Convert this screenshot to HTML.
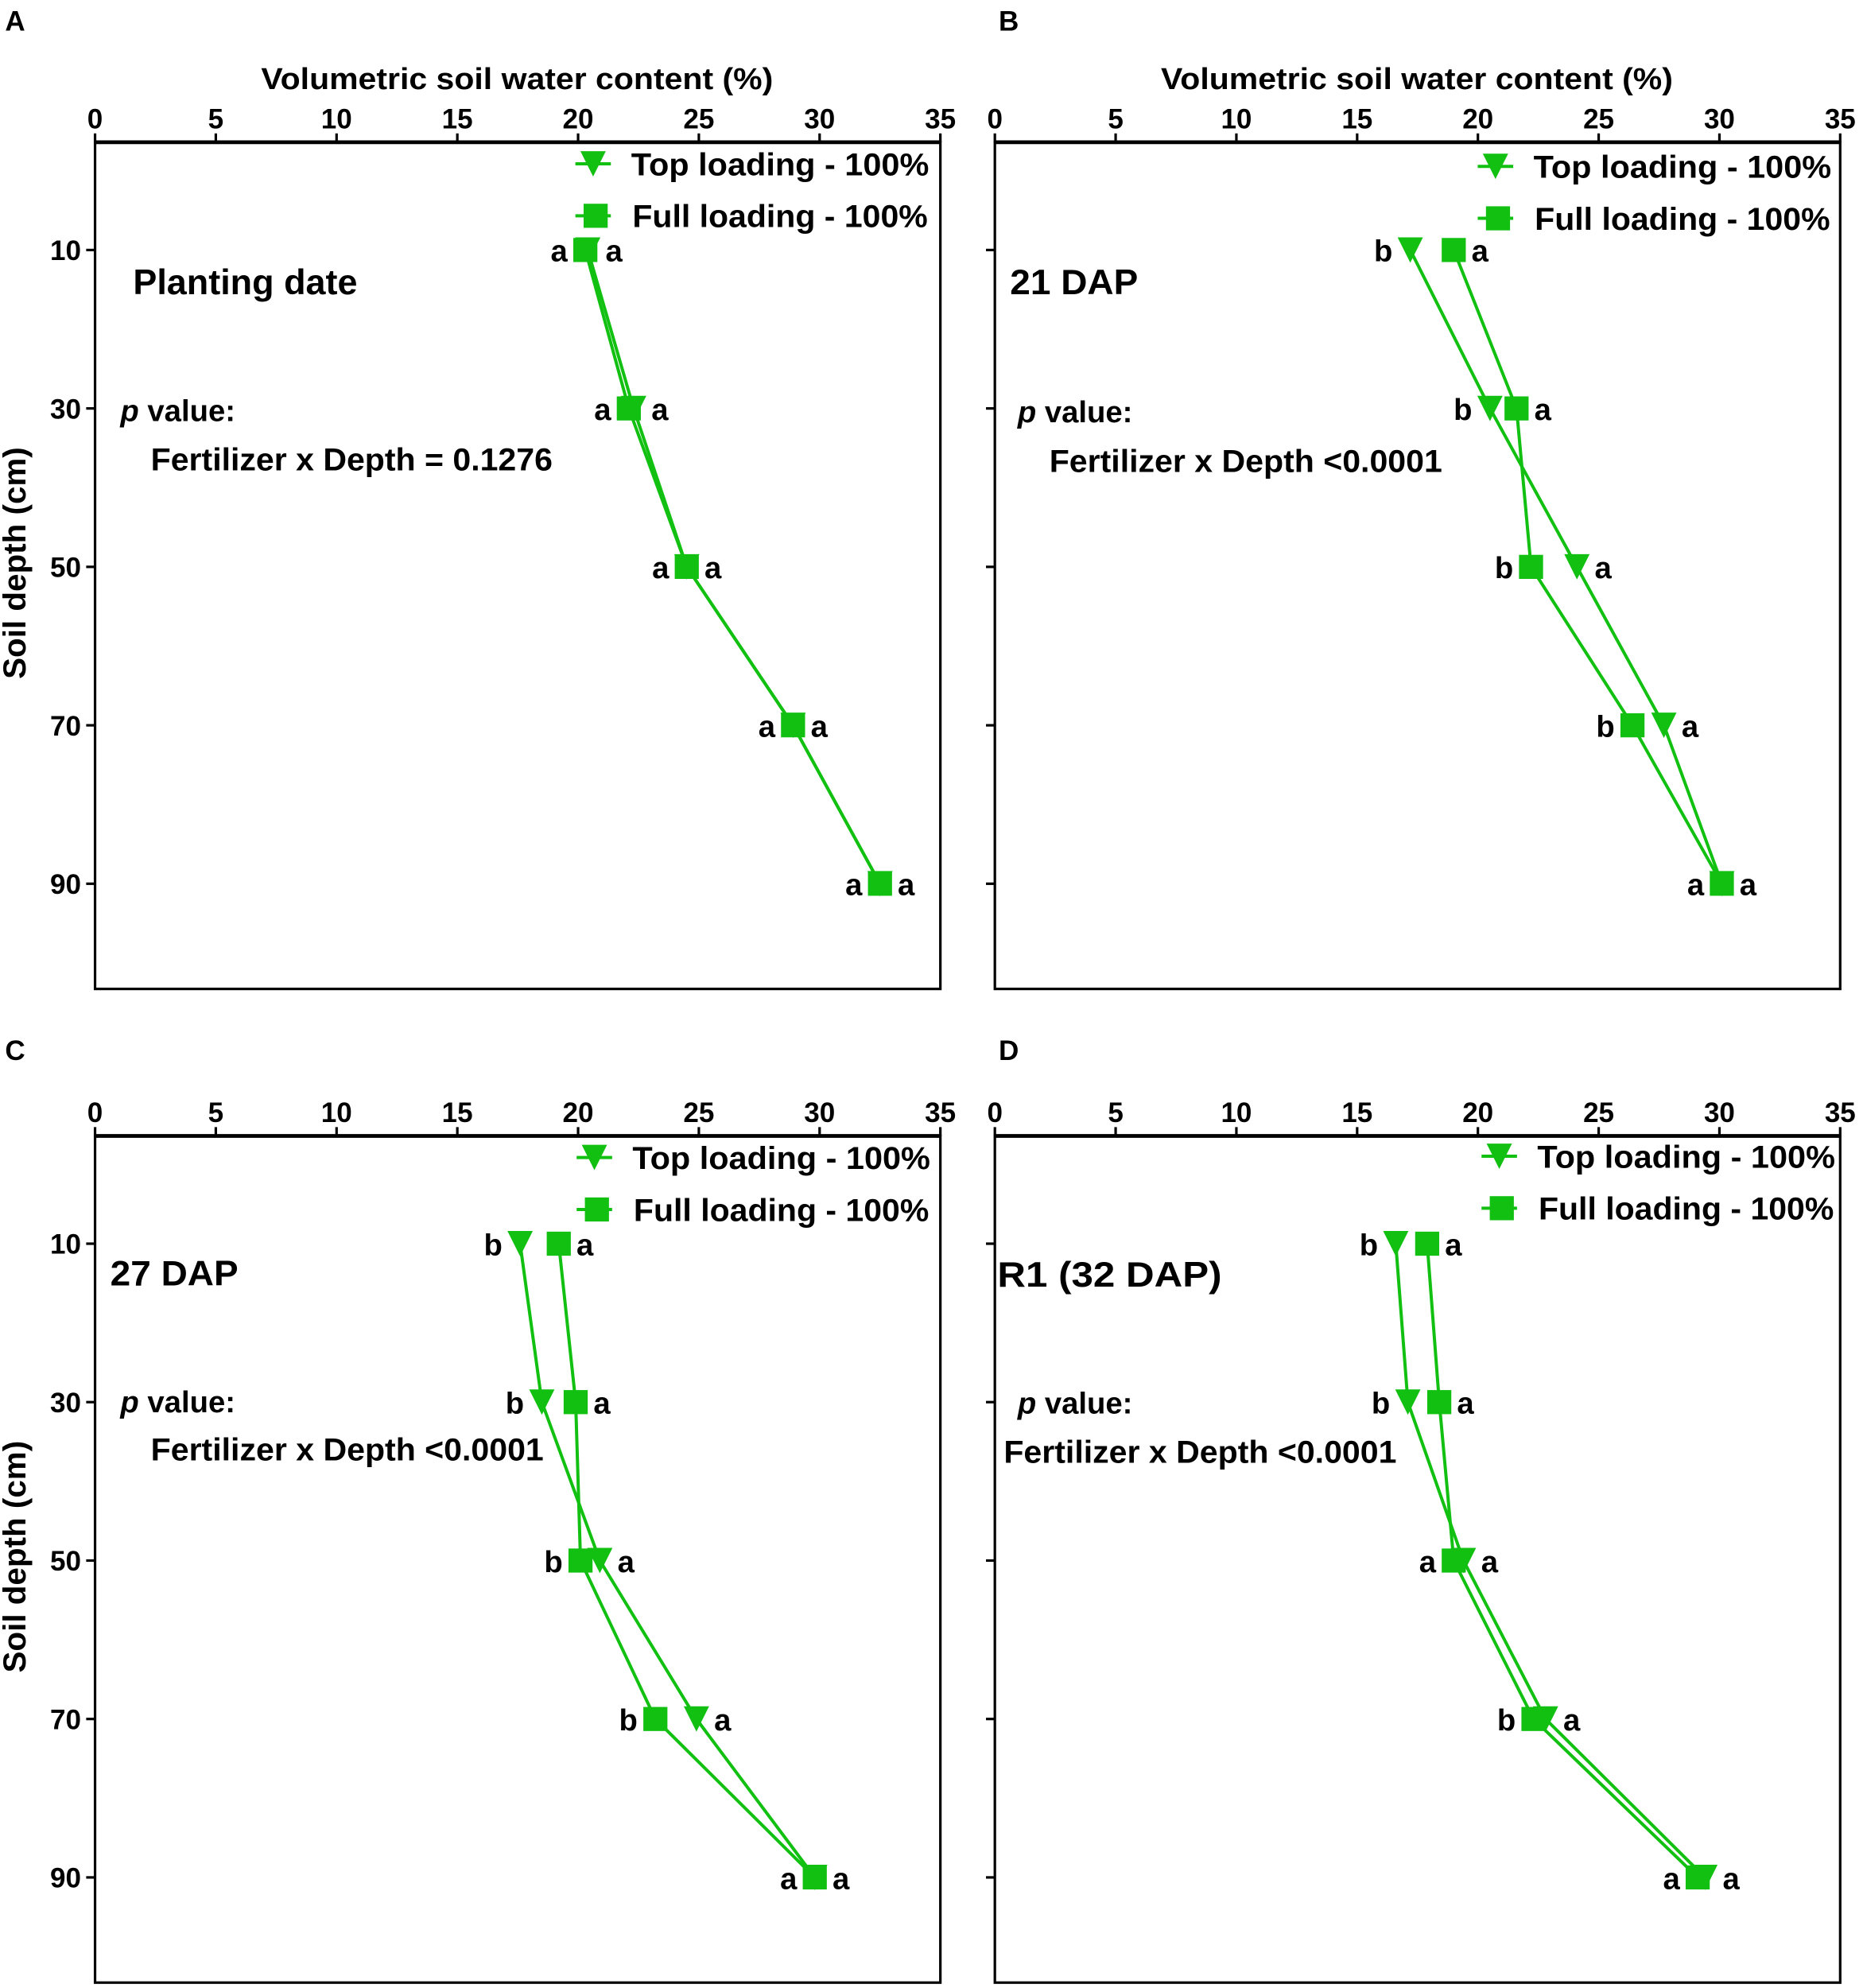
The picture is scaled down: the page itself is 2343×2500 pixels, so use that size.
<!DOCTYPE html>
<html><head><meta charset="utf-8"><style>
html,body{margin:0;padding:0;background:#fff;}
svg{display:block;}
text{font-family:"Liberation Sans",Arial,sans-serif;font-weight:bold;fill:#000;}
</style></head><body>
<svg id="fig" width="2343" height="2500" viewBox="0 0 1470 1568" xmlns="http://www.w3.org/2000/svg"></svg>
<script>
const depths = [10, 30, 50, 70, 90];
const xTicks = [0, 5, 10, 15, 20, 25, 30, 35];
const yTicks = [10, 30, 50, 70, 90];
const topA = [20.4, 22.3, 24.5, 28.9, 32.5];
const fullA = [20.3, 22.1, 24.5, 28.9, 32.5];
const topB = [17.2, 20.5, 24.1, 27.7, 30.1];
const fullB = [19.0, 21.6, 22.2, 26.4, 30.1];
const topC = [17.6, 18.5, 20.9, 24.9, 29.8];
const fullC = [19.2, 19.9, 20.1, 23.2, 29.8];
const topD = [16.6, 17.1, 19.4, 22.8, 29.4];
const fullD = [17.9, 18.4, 19.0, 22.3, 29.1];
const topLetA = ['a','a','a','a','a'];
const fullLetA = ['a','a','a','a','a'];
const topLetB = ['b','b','a','a','a'];
const fullLetB = ['a','a','b','b','a'];
const topLetC = ['b','b','a','a','a'];
const fullLetC = ['a','a','b','b','a'];
const topLetD = ['b','b','a','a','a'];
const fullLetD = ['a','a','a','b','a'];

const NS = 'http://www.w3.org/2000/svg';
const svg = document.getElementById('fig');
const G = '#12c012';
function mk(tag, attrs, parent, txt) {
  const e = document.createElementNS(NS, tag);
  for (const k in attrs) e.setAttribute(k, attrs[k]);
  if (txt !== undefined) e.textContent = txt;
  (parent || svg).appendChild(e);
  return e;
}

const panels = [
  {id:'a', label:'A', lx:4, ly:24, x0:75, y0:112, top:topA, full:fullA, tl:topLetA, fl:fullLetA, title:'Planting date', tw:177, tx:105, ty:232, px:95, py:332, fx:119, fy:371, ftxt:'Fertilizer x Depth = 0.1276', fw:317, showY:true, showXTitle:true, legX:468, legY:129},
  {id:'b', label:'B', lx:788, ly:24, x0:785, y0:112, top:topB, full:fullB, tl:topLetB, fl:fullLetB, title:'21 DAP', tw:101, tx:797, ty:232, px:803, py:333, fx:828, fy:372, ftxt:'Fertilizer x Depth <0.0001', fw:310, showY:false, showXTitle:true, legX:1180, legY:131},
  {id:'c', label:'C', lx:4, ly:836, x0:75, y0:896, top:topC, full:fullC, tl:topLetC, fl:fullLetC, title:'27 DAP', tw:101, tx:87, ty:1014, px:95, py:1114, fx:119, fy:1152, ftxt:'Fertilizer x Depth <0.0001', fw:310, showY:true, showXTitle:false, legX:469, legY:913},
  {id:'d', label:'D', lx:788, ly:836, x0:785, y0:896, top:topD, full:fullD, tl:topLetD, fl:fullLetD, title:'R1 (32 DAP)', tw:177, tx:787, ty:1015, px:803, py:1115, fx:792, fy:1154, ftxt:'Fertilizer x Depth <0.0001', fw:310, showY:false, showXTitle:false, legX:1183, legY:912}
];

function tri(g, cx, cy, name) {
  const p = mk('polygon', {points:`${cx-10},${cy-10} ${cx+10},${cy-10} ${cx},${cy+10}`, fill:G}, g);
  
  
}
function sq(g, cx, cy, name) {
  const r = mk('rect', {x:cx-9.5, y:cy-9.5, width:19, height:19, fill:G}, g);
  
  
}

panels.forEach(P => {
  const W = 667, H = 668;
  const xs = v => P.x0 + v / 35 * W;
  const ys = d => P.y0 + 22.5 + d * 6.25;
  const g = mk('g', {});
  
  
  const pl = mk('text', {x:P.lx, y:P.ly, 'font-size':22}, g, P.label);
  
  
  const box = mk('rect', {x:P.x0, y:P.y0, width:W, height:H, fill:'none', stroke:'#000', 'stroke-width':2}, g);
  
  
  mk('line', {x1:P.x0, y1:P.y0, x2:P.x0+W, y2:P.y0, stroke:'#000', 'stroke-width':3}, g);
  xTicks.forEach(t => {
    mk('line', {x1:xs(t), y1:P.y0, x2:xs(t), y2:P.y0-7, stroke:'#000', 'stroke-width':2}, g);
    const tl = mk('text', {x:xs(t), y:P.y0-11, 'font-size':22, 'text-anchor':'middle'}, g, String(t));
    
    
  });
  yTicks.forEach(t => {
    mk('line', {x1:P.x0, y1:ys(t), x2:P.x0-7, y2:ys(t), stroke:'#000', 'stroke-width':2}, g);
    if (P.showY) {
      const tl = mk('text', {x:P.x0-11, y:ys(t)+8, 'font-size':22, 'text-anchor':'end'}, g, String(t));
      
      
    }
  });
  if (P.showY) {
    const yt = mk('text', {x:0, y:0, 'font-size':25, 'text-anchor':'middle', textLength:183, lengthAdjust:'spacingAndGlyphs', transform:`translate(20,${P.y0+332}) rotate(-90)`}, g, 'Soil depth (cm)');
    
    
  }
  if (P.showXTitle) {
    const xt = mk('text', {x:P.x0+333, y:P.y0-42, 'font-size':24, 'text-anchor':'middle', textLength:404, lengthAdjust:'spacingAndGlyphs'}, g, 'Volumetric soil water content (%)');
    
    
  }
  const tt = mk('text', {x:P.tx, y:P.ty, 'font-size':28, textLength:P.tw, lengthAdjust:'spacingAndGlyphs'}, g, P.title);
  
  
  const pv = mk('text', {x:P.px, y:P.py, 'font-size':24}, g);
  
  
  mk('tspan', {'font-style':'italic'}, pv, 'p');
  mk('tspan', {}, pv, ' value:');
  const ft = mk('text', {x:P.fx, y:P.fy, 'font-size':25, textLength:P.fw, lengthAdjust:'spacingAndGlyphs'}, g, P.ftxt);
  
  
  const lg = mk('g', {}, g);
  
  
  mk('line', {x1:P.legX-14, y1:P.legY, x2:P.legX+14, y2:P.legY, stroke:G, 'stroke-width':2.5}, lg);
  tri(lg, P.legX, P.legY, 'legend-marker-top');
  mk('text', {x:P.legX+30, y:P.legY+9, 'font-size':25, textLength:235, lengthAdjust:'spacingAndGlyphs'}, lg, 'Top loading - 100%');
  mk('line', {x1:P.legX-14, y1:P.legY+41, x2:P.legX+14, y2:P.legY+41, stroke:G, 'stroke-width':2.5}, lg);
  sq(lg, P.legX+2, P.legY+41, 'legend-marker-full');
  mk('text', {x:P.legX+31, y:P.legY+50, 'font-size':25, textLength:233, lengthAdjust:'spacingAndGlyphs'}, lg, 'Full loading - 100%');
  const lt = mk('polyline', {points:depths.map((d,i)=>`${xs(P.top[i])},${ys(d)}`).join(' '), fill:'none', stroke:G, 'stroke-width':2.5}, g);
  
  
  const lf = mk('polyline', {points:depths.map((d,i)=>`${xs(P.full[i])},${ys(d)}`).join(' '), fill:'none', stroke:G, 'stroke-width':2.5}, g);
  
  
  depths.forEach((d,i) => {
    sq(g, xs(P.full[i]), ys(d), 'point-full-' + d);
    tri(g, xs(P.top[i]), ys(d), 'point-top-' + d);
    const lo = Math.min(P.top[i], P.full[i]), hi = Math.max(P.top[i], P.full[i]);
    const topLeft = P.top[i] <= P.full[i];
    const lt1 = mk('text', {x:xs(lo)-14, y:ys(d)+9, 'font-size':24, 'text-anchor':'end'}, g, topLeft ? P.tl[i] : P.fl[i]);
    
    
    const lt2 = mk('text', {x:xs(hi)+14, y:ys(d)+9, 'font-size':24}, g, topLeft ? P.fl[i] : P.tl[i]);
    
    
  });
});
</script>
</body></html>
